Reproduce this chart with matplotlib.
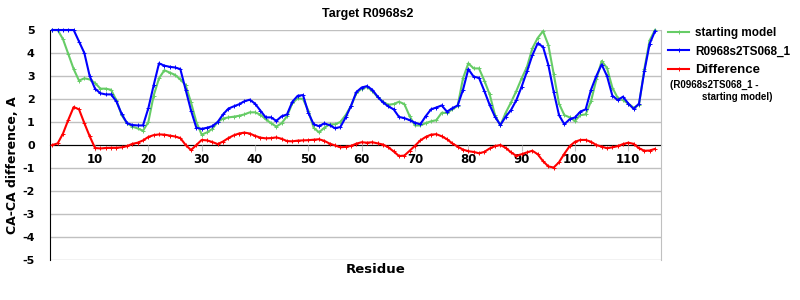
import numpy as np
import matplotlib; matplotlib.use('Agg')
import matplotlib.pyplot as plt

residues = np.arange(2, 116)

starting_model = [
    5.0, 5.0, 4.6, 3.95, 3.3, 2.8, 2.9, 2.85, 2.7, 2.45,
    2.45, 2.4, 1.95, 1.3, 0.95, 0.8, 0.72, 0.62, 1.0, 2.15,
    2.9, 3.25, 3.15, 3.05, 2.85, 2.6, 1.85, 1.0, 0.45, 0.55,
    0.7, 1.0, 1.15, 1.2, 1.23, 1.27, 1.33, 1.42, 1.42, 1.32,
    1.12, 0.95, 0.8, 0.95, 1.25, 1.82, 2.03, 2.0, 1.5, 0.75,
    0.55, 0.75, 0.9, 0.9, 1.0, 1.3, 1.7, 2.25, 2.45, 2.52,
    2.35, 2.08, 1.88, 1.75, 1.78, 1.88, 1.78, 1.25, 0.85, 0.85,
    0.95, 1.03, 1.08, 1.4, 1.4, 1.55, 1.7, 2.9, 3.55, 3.33,
    3.33, 2.8, 2.2, 1.3, 0.85, 1.4, 1.85, 2.35, 2.9, 3.4,
    4.2, 4.65, 4.95, 4.35, 3.1, 1.8, 1.3, 1.2, 1.05, 1.3,
    1.33, 1.9, 2.85, 3.65, 3.35, 2.5, 2.05, 1.95, 1.8, 1.62,
    1.75, 3.3, 4.55, 5.0]

model = [
    5.0, 5.0, 5.0, 5.0, 5.0, 4.5, 4.0, 3.0, 2.45, 2.25,
    2.2, 2.2, 1.9, 1.35, 0.95, 0.87, 0.85, 0.85, 1.6, 2.6,
    3.55, 3.45, 3.4, 3.37, 3.3, 2.4, 1.5, 0.75, 0.7, 0.75,
    0.82, 1.0, 1.33, 1.58, 1.68, 1.77, 1.9, 1.97, 1.8, 1.5,
    1.2, 1.2, 1.05, 1.25, 1.33, 1.88, 2.14, 2.17, 1.4, 0.9,
    0.82, 0.94, 0.86, 0.73, 0.78, 1.2, 1.7, 2.3, 2.5, 2.56,
    2.4, 2.1, 1.85, 1.68, 1.55, 1.22, 1.17, 1.08, 0.97, 0.9,
    1.25, 1.55, 1.63, 1.72, 1.45, 1.6, 1.72, 2.4, 3.3, 2.97,
    2.92, 2.35, 1.74, 1.23, 0.87, 1.23, 1.52, 1.95, 2.54, 3.2,
    3.9, 4.42, 4.27, 3.48, 2.32, 1.3, 0.9, 1.12, 1.2, 1.45,
    1.55, 2.4, 3.0, 3.5, 3.0, 2.15, 1.95, 2.1, 1.8, 1.57,
    1.8, 3.2, 4.4, 4.95]

difference = [
    0.0, 0.07, 0.5, 1.1, 1.65, 1.55, 0.95, 0.38, -0.13, -0.15,
    -0.13, -0.12, -0.12, -0.1, -0.05, 0.05, 0.1, 0.2, 0.35, 0.43,
    0.46, 0.45, 0.41, 0.37, 0.3, 0.0, -0.22, 0.0, 0.22, 0.2,
    0.13, 0.04, 0.15, 0.3, 0.42, 0.5, 0.54, 0.5, 0.4, 0.32,
    0.29, 0.3, 0.33, 0.27, 0.17, 0.16, 0.19, 0.2, 0.21, 0.23,
    0.25, 0.18, 0.06, -0.02, -0.1, -0.08, -0.04, 0.06, 0.12, 0.1,
    0.12, 0.07, 0.02, -0.1, -0.28, -0.48, -0.46, -0.25, -0.03, 0.2,
    0.35, 0.45, 0.47, 0.38, 0.25, 0.07, -0.07, -0.2, -0.27, -0.3,
    -0.36, -0.3, -0.15, -0.05, 0.0, -0.12, -0.32, -0.47, -0.4, -0.32,
    -0.25, -0.4, -0.7, -0.93, -0.98, -0.75, -0.38, -0.05, 0.14, 0.22,
    0.22, 0.14, 0.0, -0.07, -0.14, -0.1, -0.05, 0.04, 0.1, 0.05,
    -0.14, -0.25, -0.24, -0.17]

xticks = list(range(10, 120, 10))
yticks = list(range(-5, 6))

bold = {'family': 'DejaVu Sans', 'weight': 'bold'}
arial = {'family': 'Liberation Sans', 'weight': 'bold'}

fig = plt.figure(figsize=(8, 3), dpi=100)
ax = fig.add_axes([50/800, 40/300, 610.7/800, 230/300])

for y in yticks:
    ax.axhline(y, color='#c0c0c0', lw=1, zorder=0)

line_kw = dict(lw=1.5, marker='+', ms=2.5, mew=0.7, clip_on=False)
ax.plot(residues, starting_model, color='#66cc66', label='starting model', zorder=2, **line_kw)
ax.plot(residues, model, color='#0000ff', label='R0968s2TS068_1', zorder=3, **line_kw)
ax.plot(residues, difference, color='#ff0000', label='Difference', zorder=4, **line_kw)

ax.set_xlim(1.56, 116.07)
ax.set_ylim(-5, 5)

ax.spines['top'].set_visible(False)
ax.spines['right'].set_color('#c0c0c0')
ax.spines['left'].set_color('black')
ax.spines['bottom'].set_position(('data', 0))
ax.spines['bottom'].set_color('black')
ax.spines['bottom'].set_zorder(1)

ax.set_xticks(xticks)
ax.set_xticklabels([str(t) for t in xticks], fontdict=bold, fontsize=8.5)
ax.tick_params(axis='x', direction='out', length=4, color='#c0c0c0', pad=2)
ax.set_yticks(yticks)
ax.set_yticklabels([str(t) for t in yticks], fontdict=bold, fontsize=8)
ax.tick_params(axis='y', length=0, pad=11)

ax.set_ylabel('CA-CA difference, A', fontdict=bold, fontsize=9, va='center')
ax.yaxis.set_label_coords(-0.062, 0.413)
ax.set_xlabel('Residue', fontdict=bold, fontsize=9.5, va='center')
ax.xaxis.set_label_coords(0.533, -0.043)
ax.set_title('Target R0968s2', fontdict=arial, fontsize=9, x=0.52, y=1.057, pad=0)

leg = ax.legend(loc='upper left', bbox_to_anchor=(668/800, 1 - 27/300),
                bbox_transform=fig.transFigure, frameon=False,
                prop={'family': 'Liberation Sans', 'weight': 'bold', 'size': 8.5},
                handlelength=1.8, handletextpad=0.5, labelspacing=0.55,
                borderpad=0, borderaxespad=0)
for t in leg.get_texts():
    if t.get_text() == 'Difference':
        t.set_fontsize(9.5)
fig.text(670/800, 1 - 85/300, '(R0968s2TS068_1 -', fontdict=arial, fontsize=7, va='center')
fig.text(702/800, 1 - 97/300, 'starting model)', fontdict=arial, fontsize=7, va='center')

plt.savefig('out.png', dpi=100)
